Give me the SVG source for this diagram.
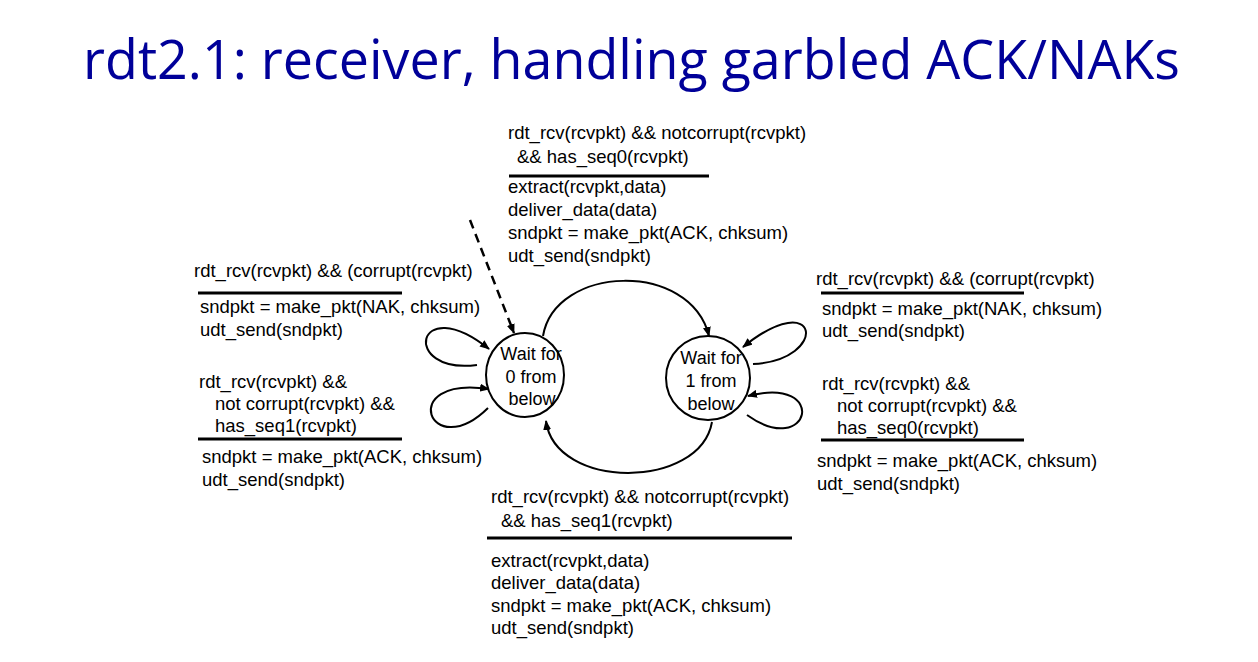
<svg xmlns="http://www.w3.org/2000/svg" width="1258" height="662" viewBox="0 0 1258 662">
<style>
.t{font-family:"Liberation Sans",Arial,sans-serif;font-size:18.5px;fill:#000}
.c{font-family:"Liberation Sans",Arial,sans-serif;font-size:18px;fill:#000;text-anchor:middle}
.title{font-family:"Open Sans","Liberation Sans",sans-serif;font-size:54px;fill:#000099}
.st{fill:#fff;stroke:#000;stroke-width:2}
.e{fill:none;stroke:#000;stroke-width:2;marker-end:url(#ah)}
.sep{stroke:#000;stroke-width:3}
</style>
<defs>
<marker id="ah" markerWidth="10" markerHeight="8" refX="9" refY="4" orient="auto" markerUnits="userSpaceOnUse">
<path d="M0,0 L10,4 L0,8 Z" fill="#000"/>
</marker>
</defs>
<rect width="1258" height="662" fill="#fff"/>
<text class="title" x="83" y="79" textLength="1097" lengthAdjust="spacingAndGlyphs">rdt2.1: receiver, handling garbled ACK/NAKs</text>

<g id="connectors">
<path class="e" d="M470,220 L514,333" stroke-dasharray="9,6" style="stroke-width:2.5"/>
<path class="e" d="M543,336 C555,265 690,260 709,336"/>
<path class="e" d="M712,422 C700,490 555,490 546,421"/>
<path class="e" d="M477,365 C400,375 415,290 489,349"/>
<path class="e" d="M488,408 C430,465 395,375 489,389"/>
<path class="e" d="M753,364 C830,360 820,285 743,347"/>
<path class="e" d="M747,415 C810,460 830,375 748,396"/>
</g>

<g id="state0">
<ellipse class="st" cx="525" cy="375" rx="39" ry="42"/>
<text class="c" x="531" y="360">Wait for</text>
<text class="c" x="531" y="383">0 from</text>
<text class="c" x="532" y="405">below</text>
</g>
<g id="state1">
<circle class="st" cx="708" cy="378" r="42"/>
<text class="c" x="711" y="364">Wait for</text>
<text class="c" x="711" y="387">1 from</text>
<text class="c" x="711" y="410">below</text>
</g>

<g id="label-top">
<text class="t" x="508" y="139">rdt_rcv(rcvpkt) &amp;&amp; notcorrupt(rcvpkt)</text>
<text class="t" x="517" y="163">&amp;&amp; has_seq0(rcvpkt)</text>
<line class="sep" x1="509" y1="176" x2="709" y2="176"/>
<text class="t" x="508" y="193">extract(rcvpkt,data)</text>
<text class="t" x="508" y="216">deliver_data(data)</text>
<text class="t" x="508" y="239">sndpkt = make_pkt(ACK, chksum)</text>
<text class="t" x="508" y="262">udt_send(sndpkt)</text>
</g>

<g id="label-left">
<text class="t" x="194" y="277">rdt_rcv(rcvpkt) &amp;&amp; (corrupt(rcvpkt)</text>
<line class="sep" x1="198" y1="293" x2="402" y2="293"/>
<text class="t" x="200" y="313">sndpkt = make_pkt(NAK, chksum)</text>
<text class="t" x="200" y="336">udt_send(sndpkt)</text>
<text class="t" x="199" y="388">rdt_rcv(rcvpkt) &amp;&amp;</text>
<text class="t" x="215" y="410">not corrupt(rcvpkt) &amp;&amp;</text>
<text class="t" x="215" y="432">has_seq1(rcvpkt)</text>
<line class="sep" x1="198" y1="439" x2="402" y2="439"/>
<text class="t" x="202" y="463">sndpkt = make_pkt(ACK, chksum)</text>
<text class="t" x="202" y="486">udt_send(sndpkt)</text>
</g>

<g id="label-right">
<text class="t" x="816" y="285">rdt_rcv(rcvpkt) &amp;&amp; (corrupt(rcvpkt)</text>
<line class="sep" x1="821" y1="293" x2="1024" y2="293"/>
<text class="t" x="822" y="315">sndpkt = make_pkt(NAK, chksum)</text>
<text class="t" x="822" y="337">udt_send(sndpkt)</text>
<text class="t" x="822" y="390">rdt_rcv(rcvpkt) &amp;&amp;</text>
<text class="t" x="837" y="412">not corrupt(rcvpkt) &amp;&amp;</text>
<text class="t" x="837" y="434">has_seq0(rcvpkt)</text>
<line class="sep" x1="821" y1="440" x2="1024" y2="440"/>
<text class="t" x="817" y="467">sndpkt = make_pkt(ACK, chksum)</text>
<text class="t" x="817" y="490">udt_send(sndpkt)</text>
</g>

<g id="label-bottom">
<text class="t" x="491" y="503">rdt_rcv(rcvpkt) &amp;&amp; notcorrupt(rcvpkt)</text>
<text class="t" x="501" y="527">&amp;&amp; has_seq1(rcvpkt)</text>
<line class="sep" x1="487" y1="538" x2="792" y2="538"/>
<text class="t" x="491" y="567">extract(rcvpkt,data)</text>
<text class="t" x="491" y="589">deliver_data(data)</text>
<text class="t" x="491" y="612">sndpkt = make_pkt(ACK, chksum)</text>
<text class="t" x="491" y="634">udt_send(sndpkt)</text>
</g>
</svg>
